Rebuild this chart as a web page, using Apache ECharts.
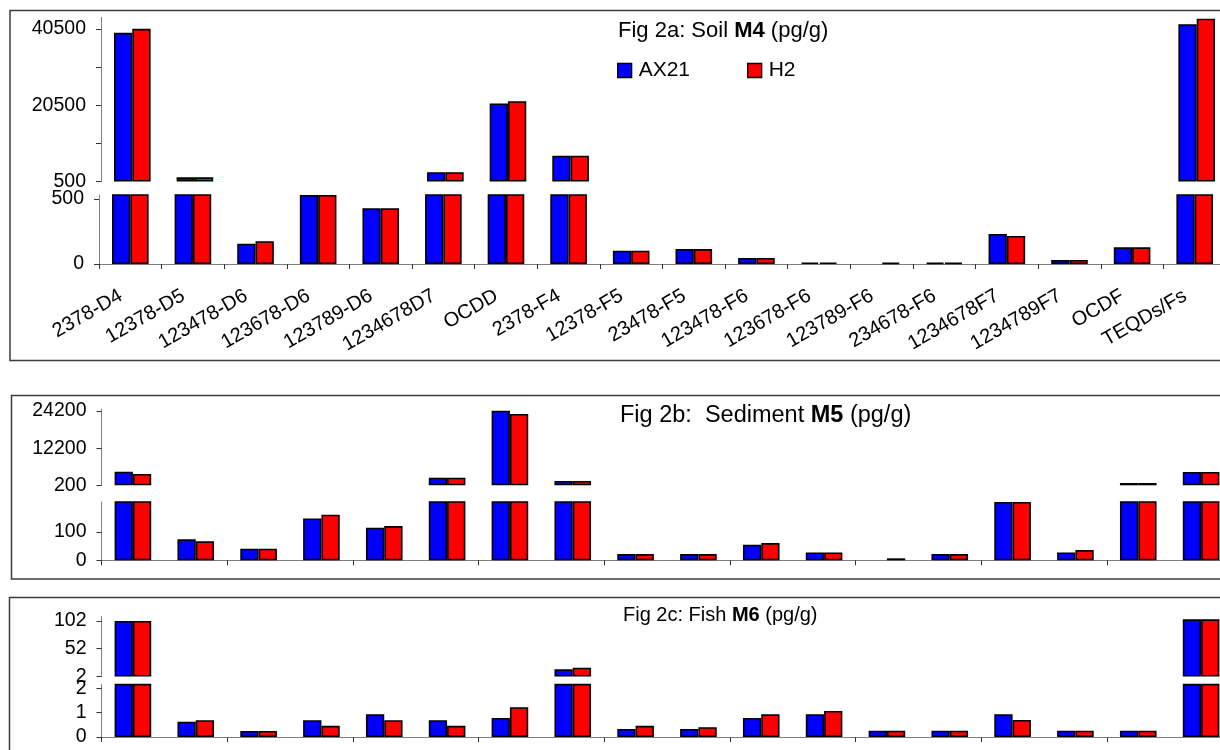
<!DOCTYPE html>
<html>
<head>
<meta charset="utf-8">
<script src="https://cdn.jsdelivr.net/npm/echarts@6/dist/echarts.min.js"></script>
<style>
  html, body { margin: 0; padding: 0; background: #fff; }
  #chart { width: 1220px; height: 750px; }
</style>
</head>
<body>
<div id="chart"></div>
<script>
// congeners on the x axis
const categories = ['2378-D4', '12378-D5', '123478-D6', '123678-D6', '123789-D6', '1234678D7', 'OCDD',
  '2378-F4', '12378-F5', '23478-F5', '123478-F6', '123678-F6', '123789-F6', '234678-F6',
  '1234678F7', '1234789F7', 'OCDF', 'TEQDs/Fs'];

// Fig 2a soil M4 (pg/g)
const soilAX21 = [39450, 1600, 156, 530, 428, 2950, 20940, 7260, 102, 115, 46, 12, null, 10, 231, 31, 128, 41720];
const soilH2 = [40500, 1600, 175, 530, 428, 2950, 21550, 7260, 102, 115, 46, 12, 10, 10, 215, 31, 128, 43140];
// Fig 2b sediment M5 (pg/g)
const sedAX21 = [4590, 74, 41, 148, 115, 2650, 24300, 1590, 22, 22, 55, 28, null, 22, 206, 28, 950, 4500];
const sedH2 = [3850, 67, 41, 161, 121, 2650, 23230, 1590, 22, 22, 61, 28, 7, 22, 206, 36, 950, 4500];
// Fig 2c fish M6 (pg/g)
const fishAX21 = [102, 0.63, 0.25, 0.69, 0.93, 0.69, 0.78, 15, 0.33, 0.33, 0.78, 0.93, 0.26, 0.26, 0.93, 0.26, 0.26, 105];
const fishH2 = [102, 0.69, 0.25, 0.46, 0.69, 0.46, 1.22, 17.9, 0.46, 0.40, 0.93, 1.07, 0.26, 0.26, 0.70, 0.26, 0.26, 105];

// tick values of the broken axes
const soilUpperTicks = [500, 10500, 20500, 30500, 40500];
const soilUpperLabels = [500, 20500, 40500];
const soilLowerTicks = [0, 500];
const sedUpperTicks = [200, 12200, 24200];
const sedLowerTicks = [0, 100];
const fishUpperTicks = [2, 52, 102];
const fishLowerTicks = [0, 1, 2];

const FONT = '"Liberation Sans", Arial, sans-serif';
const BLUE = '#0000ff';
const RED = '#ff0000';

let chart = echarts.init(document.getElementById('chart'));

let grids = [], xAxes = [], yAxes = [], series = [];

function yAxis(gi, min, max, ticks, labels) {
    return {
        type: 'value', gridIndex: gi, min: min, max: max,
        splitLine: { show: false },
        axisLine: { show: true, lineStyle: { color: '#808080', width: 1 } },
        axisTick: { show: true, length: 5, customValues: ticks, lineStyle: { color: '#333' } },
        axisLabel: {
            customValues: labels, fontSize: 19.5, margin: 15, color: '#000', fontFamily: FONT,
            formatter: function (v) { return String(v); }
        }
    };
}

// one panel = an upper grid (large values) and a lower grid (small values)
function panel(p) {
    let gu = grids.length;
    let gl = gu + 1;
    grids.push({ left: p.leftU, top: p.upper[0], height: p.upper[1] - p.upper[0], width: p.width,
        containLabel: false, outerBoundsMode: 'none' });
    grids.push({ left: p.leftL, top: p.lower[0], height: p.lower[1] - p.lower[0], width: p.width,
        containLabel: false, outerBoundsMode: 'none' });

    xAxes.push({ type: 'category', gridIndex: gu, data: categories, show: false });
    xAxes.push({
        type: 'category', gridIndex: gl, data: categories,
        axisLine: { lineStyle: { color: '#808080' } },
        axisTick: { show: true, length: 5, lineStyle: { color: '#333' } },
        axisLabel: p.labels ? {
            interval: 0, rotate: 30, fontSize: 20, margin: 25, padding: [0, 11, 0, 0],
            color: '#000', fontFamily: FONT
        } : { show: false }
    });

    yAxes.push(yAxis(gu, p.uMin, p.uMax, p.uTicks, p.uLabels));
    yAxes.push(yAxis(gl, 0, p.lMax, p.lTicks, p.lTicks));

    [['AX21', p.a, BLUE], ['H2', p.h, RED]].forEach(function (s) {
        let stack = 'u' + gu + s[0];
        // invisible base so the upper bar starts at the axis minimum
        series.push({
            name: s[0] + ' base', type: 'bar', xAxisIndex: gu, yAxisIndex: gu, stack: stack,
            barWidth: 18.3, barGap: '0%', silent: true,
            itemStyle: { color: 'transparent', borderWidth: 0 },
            data: s[1].map(v => (v != null && v > p.lMax) ? p.uMin : '-')
        });
        series.push({
            name: s[0], type: 'bar', xAxisIndex: gu, yAxisIndex: gu, stack: stack,
            barWidth: 18.3, barGap: '0%',
            itemStyle: { color: s[2], borderColor: '#000', borderWidth: 1.6 },
            data: s[1].map(v => (v != null && v > p.lMax) ? v - p.uMin : '-')
        });
        series.push({
            name: s[0], type: 'bar', xAxisIndex: gl, yAxisIndex: gl,
            barWidth: 18.3, barGap: '0%',
            itemStyle: { color: s[2], borderColor: '#000', borderWidth: 1.6 },
            data: s[1]
        });
    });
}

panel({ leftU: 101, leftL: 99, width: 1127, upper: [17.4, 181.5], lower: [195, 264],
    uMin: 500, uMax: 43500, lMax: 530, uTicks: soilUpperTicks, uLabels: soilUpperLabels,
    lTicks: soilLowerTicks, a: soilAX21, h: soilH2, labels: true });
panel({ leftU: 101.5, leftL: 101.5, width: 1131, upper: [409.3, 485.3], lower: [502, 560.3],
    uMin: 200, uMax: 24750, lMax: 206, uTicks: sedUpperTicks, uLabels: sedUpperTicks,
    lTicks: sedLowerTicks, a: sedAX21, h: sedH2, labels: false });
panel({ leftU: 101.5, leftL: 101.5, width: 1131, upper: [616.5, 676.5], lower: [684.6, 737],
    uMin: 2, uMax: 110, lMax: 2.15, uTicks: fishUpperTicks, uLabels: fishUpperTicks,
    lTicks: fishLowerTicks, a: fishAX21, h: fishH2, labels: false });

function titleOf(text, left, top, size) {
    return {
        text: text, left: left, top: top, padding: 0,
        textStyle: {
            fontSize: size, fontWeight: 'normal', color: '#000', fontFamily: FONT,
            rich: { b: { fontSize: size, fontWeight: 'bold', color: '#000', fontFamily: FONT } }
        }
    };
}

function frame(x, y, h) {
    return {
        type: 'rect', silent: true,
        shape: { x: x, y: y, width: 1240, height: h },
        style: { fill: 'none', stroke: '#3c3c3c', lineWidth: 1.5 }
    };
}

let option = {
    animation: false,
    textStyle: { fontFamily: FONT },
    title: [
        titleOf('Fig 2a: Soil {b|M4} (pg/g)', 618, 20, 22),
        titleOf('Fig 2b:  Sediment {b|M5} (pg/g)', 620, 404, 23.5),
        titleOf('Fig 2c: Fish {b|M6} (pg/g)', 623, 605, 20)
    ],
    legend: {
        data: ['AX21', 'H2'], left: 617, top: 60, padding: 0,
        itemWidth: 14, itemHeight: 14, itemGap: 57, icon: 'rect',
        textStyle: { fontSize: 21, color: '#000', fontFamily: FONT, padding: [0, 0, 0, 2] },
        itemStyle: { borderColor: '#000', borderWidth: 1.3 }
    },
    graphic: [frame(10, 10.5, 350), frame(11.5, 395.5, 183.5), frame(9.5, 597.5, 200)],
    grid: grids,
    xAxis: xAxes,
    yAxis: yAxes,
    series: series
};

chart.setOption(option);
</script>
</body>
</html>
